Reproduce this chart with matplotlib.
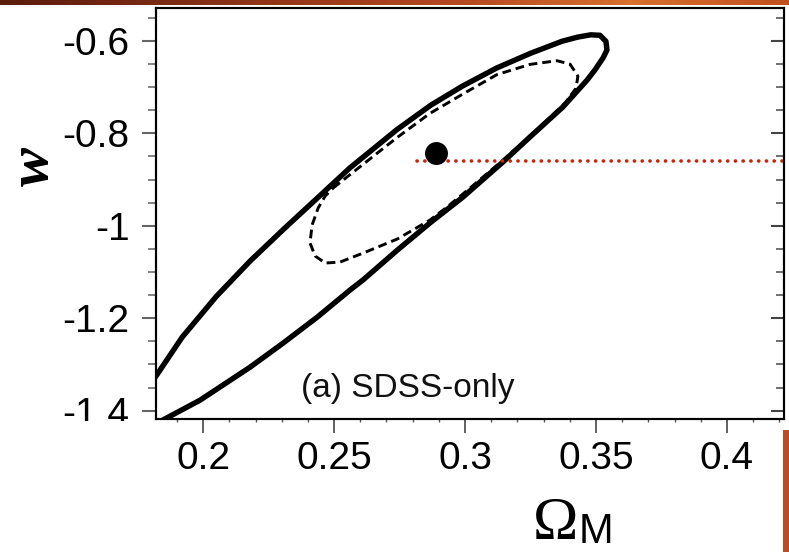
import numpy as np
import matplotlib
matplotlib.use("Agg")
import matplotlib.pyplot as plt
from matplotlib.ticker import MultipleLocator, FixedLocator
from matplotlib.patches import Rectangle
from matplotlib.colors import LinearSegmentedColormap

# ---- data ----
outer_x = [0.180, 0.192, 0.205, 0.218, 0.231, 0.244, 0.256, 0.261, 0.274, 0.287,
           0.299, 0.312, 0.325, 0.337, 0.343, 0.348, 0.3515, 0.3538, 0.3542, 0.3527,
           0.3496, 0.3466, 0.3374, 0.3248, 0.3145, 0.2992, 0.2866, 0.2741, 0.2611,
           0.2561, 0.2435, 0.2305, 0.2179, 0.1989, 0.1847, 0.1798]
outer_y = [-1.342, -1.241, -1.153, -1.076, -1.006, -0.938, -0.875, -0.852, -0.792, -0.739,
           -0.698, -0.659, -0.627, -0.601, -0.592, -0.587, -0.588, -0.601, -0.620, -0.637,
           -0.663, -0.685, -0.743, -0.808, -0.862, -0.938, -0.994, -1.053, -1.117,
           -1.139, -1.198, -1.254, -1.306, -1.377, -1.420, -1.437]

inner_x = [0.2496, 0.2611, 0.2741, 0.2866, 0.2992, 0.3122, 0.3248, 0.3351, 0.3401, 0.3431,
           0.3424, 0.3382, 0.3286, 0.3145, 0.3019, 0.2931, 0.2866, 0.2741, 0.2611, 0.2523,
           0.2466, 0.2428, 0.2408, 0.2416, 0.2439, 0.2466, 0.2496]
inner_y = [-0.9185, -0.8670, -0.8090, -0.7570, -0.7150, -0.6730, -0.6510, -0.6430, -0.6504, -0.6763,
           -0.7023, -0.7347, -0.7866, -0.8580, -0.9185, -0.9596, -0.9877, -1.0288, -1.0591, -1.0785,
           -1.0807, -1.0655, -1.0374, -0.9985, -0.9618, -0.9358, -0.9185]

best_fit = (0.289, -0.843)
ref_w = -0.860
ref_x_start = 0.2817

x_major = [0.2, 0.25, 0.3, 0.35, 0.4]
x_labels = ["0.2", "0.25", "0.3", "0.35", "0.4"]
y_major = [-0.6, -0.8, -1.0, -1.2, -1.4]
y_labels = ["-0.6", "-0.8", "-1", "-1.2", "-1.4"]
panel_label = "(a) SDSS-only"

xlim = (0.182, 0.4218)
ylim = (-1.418, -0.529)

# ---- figure ----
W, H = 789, 552
fig = plt.figure(figsize=(W / 100, H / 100), dpi=100)
fig.patch.set_facecolor("white")

ax = fig.add_axes([156 / W, 1 - 419 / H, (784 - 156) / W, (419 - 8) / H])
ax.set_xlim(*xlim)
ax.set_ylim(*ylim)

ax.plot(outer_x, outer_y, color="black", lw=3.9, solid_joinstyle="round",
        solid_capstyle="round", zorder=3)
ax.plot(inner_x, inner_y, color="black", lw=2.1, linestyle=(0, (3.0, 1.7)), zorder=3)
ax.plot([ref_x_start, xlim[1]], [ref_w, ref_w], color="#c8250c", lw=2.6,
        linestyle=(0, (0.05, 2.1)), dash_capstyle="round", zorder=4, clip_on=False)
ax.plot([best_fit[0]], [best_fit[1]], "o", color="black", ms=15.5, zorder=5)

tfont = dict(family=["Liberation Sans", "DejaVu Sans"], size=28)

ax.xaxis.set_major_locator(FixedLocator(x_major))
ax.set_xticklabels(x_labels, **tfont)
ax.xaxis.set_minor_locator(MultipleLocator(0.01))
ax.yaxis.set_major_locator(FixedLocator(y_major))
ax.set_yticklabels(y_labels, **tfont)
ax.yaxis.set_minor_locator(MultipleLocator(0.05))

ax.tick_params(axis="x", which="major", direction="out", length=10, width=1.3,
               color="#555555", pad=6, top=False)
ax.tick_params(axis="x", which="minor", direction="out", length=2.5, width=1.0,
               color="#555555", top=False)
ax.tick_params(axis="y", which="major", direction="out", length=10, width=1.5,
               color="#666666", pad=9, right=False)
ax.tick_params(axis="y", which="minor", direction="out", length=5.5, width=1.3,
               color="#777777", right=False)

# inward ticks on the right spine
axr = ax.twinx()
axr.set_ylim(*ylim)
axr.yaxis.set_major_locator(FixedLocator(y_major))
axr.yaxis.set_minor_locator(MultipleLocator(0.05))
axr.set_yticklabels([])
axr.tick_params(axis="y", which="major", direction="in", length=9.5, width=1.5,
                color="#444444")
axr.tick_params(axis="y", which="minor", direction="in", length=5.5, width=1.2,
                color="#555555")
for a in (ax, axr):
    for s in a.spines.values():
        s.set_linewidth(1.5)
        s.set_color("black")

ax.text(0.2375, -1.370, panel_label, ha="left", va="baseline",
        family=["Liberation Sans", "DejaVu Sans"], size=24, color="#111111")

# axis labels
fig.text(34 / W, 1 - 167 / H, "w", rotation=90, ha="center", va="center",
         family=["Liberation Serif", "DejaVu Serif"], style="italic", weight="bold",
         size=42)
fig.text(533 / W, 1 - 539 / H, "\u03a9", ha="left", va="baseline",
         family=["Liberation Serif", "DejaVu Serif"], size=44)
fig.text(579 / W, 1 - 543 / H, "M", ha="left", va="baseline",
         family=["Liberation Sans", "DejaVu Sans"], size=30)

# white patch clipping the lowest y label (as in the source)
fig.patches.append(Rectangle((0, 1 - 433 / H), 150 / W, 12.5 / H,
                             transform=fig.transFigure, facecolor="white",
                             edgecolor="none", zorder=10))

# decorative slide border: gradient bar on top, orange strip at right
bar = fig.add_axes([0, 1 - 5 / H, 1, 5 / H])
cmap = LinearSegmentedColormap.from_list(
    "slide", ["#5a1c0e", "#7a2a14", "#9a3a1a", "#b84a20", "#d8702e", "#c0501e"])
bar.imshow(np.linspace(0, 1, 256)[None, :], aspect="auto", cmap=cmap,
           extent=[0, 1, 0, 1])
bar.set_axis_off()
strip = fig.add_axes([783 / W, 0, 6 / W, (552 - 430) / H])
strip.set_facecolor("#c04a22")
strip.set_xticks([])
strip.set_yticks([])
for s in strip.spines.values():
    s.set_visible(False)

fig.savefig("out.png", dpi=100)
